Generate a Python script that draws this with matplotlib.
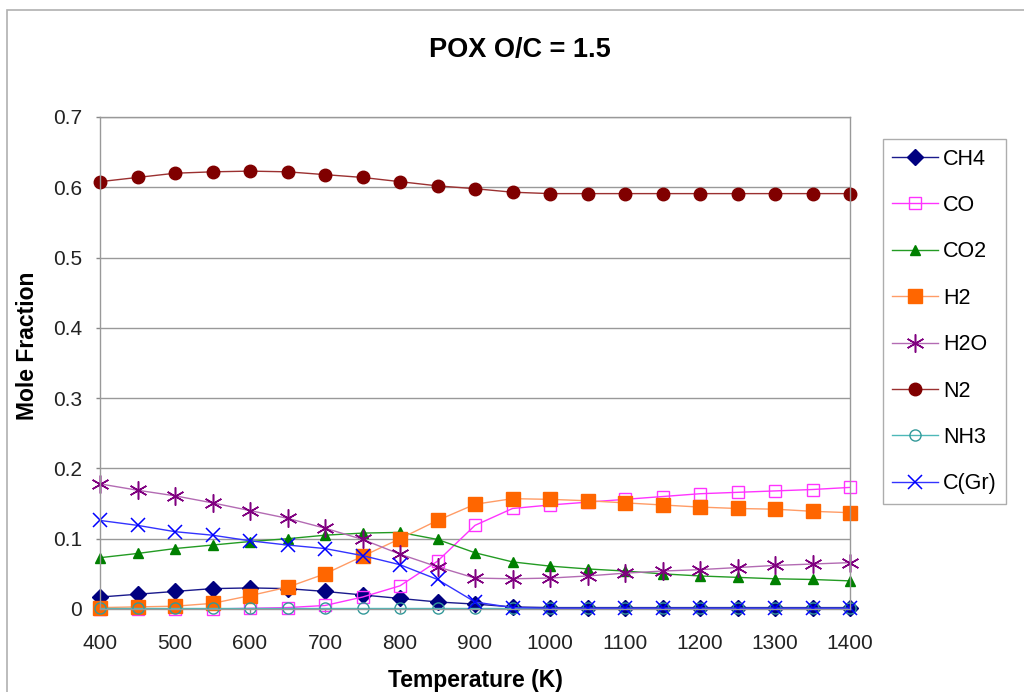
import matplotlib
matplotlib.use('Agg')
import matplotlib.pyplot as plt
from matplotlib.patches import Rectangle

plt.rcParams['font.family'] = ['Liberation Sans', 'DejaVu Sans']

# Temperatures (K) and equilibrium mole fractions
temps = [400, 450, 500, 550, 600, 650, 700, 750, 800, 850, 900,
         950, 1000, 1050, 1100, 1150, 1200, 1250, 1300, 1350, 1400]

ch4 = [0.017, 0.021, 0.025, 0.029, 0.030, 0.029, 0.025, 0.020, 0.015, 0.010, 0.007,
       0.003, 0.002, 0.002, 0.002, 0.002, 0.002, 0.002, 0.002, 0.002, 0.002]
co = [0.000, 0.000, 0.000, 0.000, 0.001, 0.002, 0.005, 0.017, 0.033, 0.068, 0.119,
      0.143, 0.148, 0.152, 0.156, 0.160, 0.164, 0.166, 0.168, 0.170, 0.173]
co2 = [0.073, 0.079, 0.086, 0.091, 0.096, 0.100, 0.105, 0.108, 0.109, 0.099, 0.080,
       0.067, 0.061, 0.057, 0.054, 0.050, 0.047, 0.045, 0.043, 0.042, 0.040]
h2 = [0.002, 0.003, 0.004, 0.008, 0.019, 0.031, 0.050, 0.075, 0.100, 0.126, 0.149,
      0.157, 0.156, 0.154, 0.151, 0.148, 0.145, 0.143, 0.142, 0.139, 0.137]
h2o = [0.178, 0.169, 0.161, 0.151, 0.140, 0.129, 0.115, 0.099, 0.078, 0.060, 0.044,
       0.043, 0.044, 0.047, 0.051, 0.054, 0.056, 0.059, 0.062, 0.064, 0.066]
n2 = [0.608, 0.614, 0.620, 0.622, 0.623, 0.622, 0.618, 0.614, 0.608, 0.602, 0.598,
      0.593, 0.591, 0.591, 0.591, 0.591, 0.591, 0.591, 0.591, 0.591, 0.591]
nh3 = [0.001, 0.001, 0.001, 0.001, 0.001, 0.001, 0.001, 0.001, 0.001, 0.001, 0.001,
       0.001, 0.001, 0.001, 0.001, 0.001, 0.001, 0.001, 0.001, 0.001, 0.001]
c_gr = [0.126, 0.119, 0.110, 0.105, 0.097, 0.091, 0.086, 0.076, 0.063, 0.042, 0.010,
        0.002, 0.001, 0.001, 0.001, 0.001, 0.001, 0.001, 0.001, 0.001, 0.001]

fig = plt.figure(figsize=(10.24, 6.92), dpi=100)
ax = fig.add_axes([100 / 1024, 1 - 609 / 692, 750 / 1024, 492 / 692])

# outer chart frame
fig.patches.append(Rectangle((7 / 1024, -0.1), 1.2, 1 - 10 / 692 + 0.1,
                             transform=fig.transFigure, fill=False,
                             edgecolor='#b0b0b0', linewidth=1.2))

style = dict(lw=1.0, clip_on=False)
ax.plot(temps, ch4, color='#1a1a8c', marker='D', ms=8,
        mfc='#000080', mec='#000080', label='CH4', **style)
ax.plot(temps, co, color='#ff33ff', marker='s', ms=9,
        mfc='none', mec='#ff33ff', mew=1.0, label='CO', **style)
ax.plot(temps, co2, color='#239b23', marker='^', ms=6.5,
        mfc='#008000', mec='#008000', label='CO2', **style)
ax.plot(temps, h2, color='#ff9c66', marker='s', ms=10,
        mfc='#ff6600', mec='#ff6600', label='H2', **style)
ax.plot(temps, h2o, color='#b36bb3', marker=(6, 2, 0), ms=13,
        mfc='#800080', mec='#800080', mew=1.1, label='H2O', **style)
ax.plot(temps, n2, color='#9b3030', marker='o', ms=9,
        mfc='#800000', mec='#800000', label='N2', **style)
ax.plot(temps, nh3, color='#4db8b8', marker='o', ms=8,
        mfc='none', mec='#339999', mew=1.0, label='NH3', **style)
ax.plot(temps, c_gr, color='#3333ff', marker='x', ms=10.5,
        mec='#0000ff', mew=1.1, label='C(Gr)', **style)

ax.set_xlim(400, 1400)
ax.set_ylim(0, 0.7)
ax.set_xticks([400, 500, 600, 700, 800, 900, 1000, 1100, 1200, 1300, 1400])
ax.set_yticks([0, 0.1, 0.2, 0.3, 0.4, 0.5, 0.6, 0.7])
ax.set_yticklabels(['0', '0.1', '0.2', '0.3', '0.4', '0.5', '0.6', '0.7'])
ax.tick_params(axis='both', labelsize=15, colors='#888888', labelcolor='#222222',
               length=3, width=1)
ax.tick_params(axis='y', pad=10)
ax.tick_params(axis='x', pad=15)
ax.grid(axis='y', color='#999999', lw=1)
ax.set_axisbelow(True)
for s in ax.spines.values():
    s.set_color('#999999')
    s.set_linewidth(1)

ax.set_xlabel('Temperature (K)', fontsize=16.5, fontweight='bold')
ax.xaxis.set_label_coords(0.5, 1 - (681 - 117) / 492)
ax.xaxis.label.set_va('center')
ax.set_ylabel('Mole Fraction', fontsize=16.5, fontweight='bold')
ax.yaxis.set_label_coords((28 - 100) / 750, 0.5 + (609 - 346 - 246) / 492)
ax.yaxis.label.set_va('center')

fig.text(520 / 1024, 1 - 50 / 692, 'POX O/C = 1.5', fontsize=19.5,
         fontweight='bold', ha='center', va='center')

leg = ax.legend(loc='center', bbox_to_anchor=(944.5 / 1024, 1 - 321.5 / 692),
                bbox_transform=fig.transFigure, fontsize=15.5, frameon=True,
                fancybox=False, edgecolor='#999999', handlelength=2.1,
                handletextpad=0.25, labelspacing=1.18, borderpad=0.45,
                borderaxespad=0)
leg.get_frame().set_linewidth(1)

fig.savefig('out.png', dpi=100)
